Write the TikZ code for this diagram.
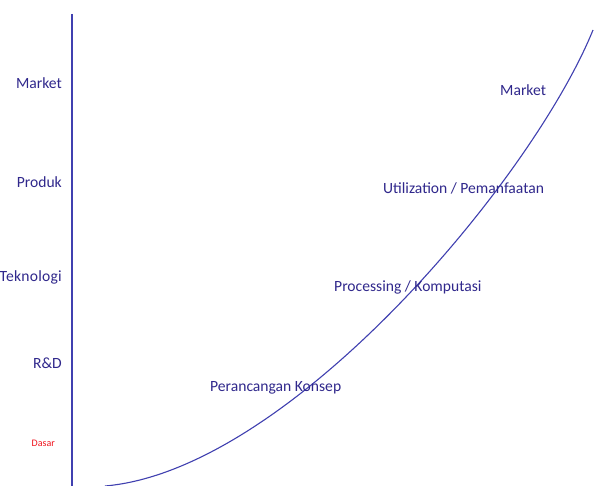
\documentclass[tikz,border=0pt]{standalone}
\usepackage{fontspec}
\setmainfont{Carlito}
\begin{document}
\begin{tikzpicture}[x=1pt,y=-1pt,
  axisline/.style={draw=axisblue,line width=1.3pt},
  curveline/.style={draw=axisblue,line width=1.1pt},
  lbl/.style={text=textblue,font=\fontsize{15.6}{18}\selectfont,inner sep=0pt},
  lvl/.style={lbl,anchor=east},
  stage/.style={lbl,anchor=west}]
\definecolor{axisblue}{RGB}{64,64,176}
\definecolor{textblue}{RGB}{48,40,140}
\definecolor{basered}{RGB}{240,20,30}
\useasboundingbox (0,0) rectangle (612,486);
\fill[white] (0,0) rectangle (612,486);

% vertical axis
\coordinate (axtop) at (72,14);
\coordinate (axbot) at (72,486);
\draw[axisline] (axtop) -- (axbot);

% growth curve
\coordinate (cstart) at (105,486);
\coordinate (cend) at (593,30);
\draw[curveline] (cstart) .. controls (290,470) and (533,178) .. (cend);

% levels on the axis
\node[lvl] (lmarket) at (62,83) {Market};
\node[lvl] (lproduk) at (62,182) {Produk};
\node[lvl] (ltek) at (62,277) {\addfontfeature{LetterSpace=1.5}Teknologi};
\node[lvl] (lrd) at (62,363) {R\&D};
\node[anchor=east,inner sep=0pt,text=basered,font=\fontsize{10}{12}\selectfont] (ldasar) at (55,443) {Dasar};

% stages along the curve
\node[stage] (smarket) at (500,90) {Market};
\node[stage] (sutil) at (383,188) {Utilization / Pemanfaatan};
\node[stage] (sproc) at (334,287) {Processing / Komputasi};
\node[stage] (skonsep) at (210,388) {Perancangan Konsep};
\end{tikzpicture}
\end{document}
